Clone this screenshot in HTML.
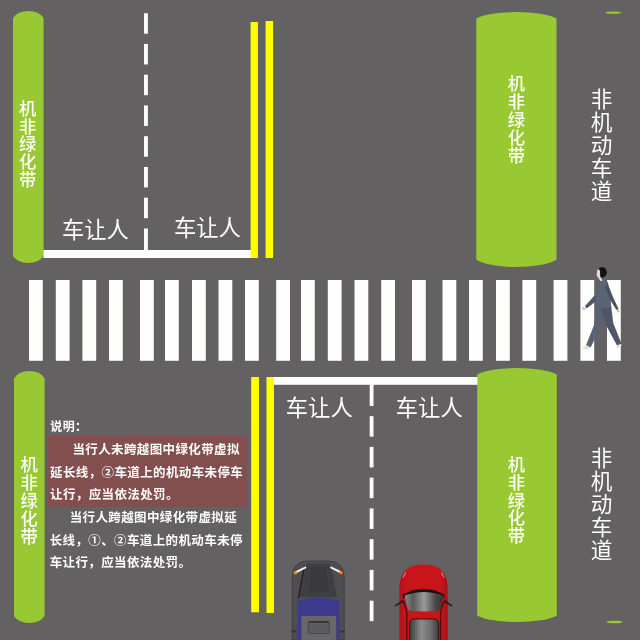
<!DOCTYPE html>
<html lang="zh-CN">
<head>
<meta charset="utf-8">
<title>车让人</title>
<style>
html,body{margin:0;padding:0;}
body{width:640px;height:640px;overflow:hidden;background:#636162;position:relative;font-family:"Liberation Sans","Noto Sans CJK SC",sans-serif;color:#fdfdfb;}
svg{position:absolute;left:0;top:0;}
#tx{position:absolute;left:0;top:0;width:640px;height:640px;will-change:transform;}
.t{position:absolute;white-space:nowrap;color:#fdfdfb;}
.v{position:absolute;text-align:center;word-break:break-all;white-space:normal;color:#fdfdfb;}
.gb{font-size:17.3px;line-height:17.8px;width:18px;font-weight:500;}
.nm{font-size:21.6px;line-height:23px;width:22px;font-weight:400;}
.crr{font-size:22.3px;line-height:24px;font-weight:400;letter-spacing:0px;}
.ex{position:absolute;font-size:12.5px;font-weight:700;line-height:22.3px;letter-spacing:0.38px;color:#fdfdfb;white-space:nowrap;}
</style>
</head>
<body>
<svg width="640" height="640" viewBox="0 0 640 640">
<rect width="640" height="640" fill="#636162"/>
<!-- green belts -->
<g fill="#98c832">
<path d="M13 18 A17 12.4 0 0 1 43.6 18 V256 A17 12.4 0 0 1 13 256 Z"/>
<path d="M476.3 18.4 A44 10.8 0 0 1 556.5 18.4 V259.8 A44 12.4 0 0 1 476.3 259.8 Z"/>
<path d="M14 378.4 A17 13 0 0 1 44.6 378.4 V616 A17 12.4 0 0 1 14 616 Z"/>
<path d="M477.2 374.4 A44 11 0 0 1 556.8 374.4 V615.7 A44 11 0 0 1 477.2 615.7 Z"/>
<ellipse cx="613.5" cy="12.6" rx="8" ry="1.2"/>
<ellipse cx="614.5" cy="622" rx="8" ry="1.3"/>
</g>
<!-- crosswalk -->
<g fill="#fdfdfb">
<rect x="29" y="280" width="13.8" height="80.8"/><rect x="55.8" y="280" width="13.8" height="80.8"/><rect x="82.4" y="280" width="13.8" height="80.8"/><rect x="109" y="280" width="13.8" height="80.8"/><rect x="140" y="280" width="13.8" height="80.8"/><rect x="165" y="280" width="13.8" height="80.8"/><rect x="192" y="280" width="13.8" height="80.8"/><rect x="218.5" y="280" width="13.8" height="80.8"/><rect x="245" y="280" width="13.8" height="80.8"/><rect x="276.2" y="280" width="13.8" height="80.8"/><rect x="301" y="280" width="13.8" height="80.8"/><rect x="327.8" y="280" width="13.8" height="80.8"/><rect x="354.5" y="280" width="13.8" height="80.8"/><rect x="381.2" y="280" width="13.8" height="80.8"/><rect x="412" y="280" width="13.8" height="80.8"/><rect x="442.5" y="280" width="13.8" height="80.8"/><rect x="469" y="280" width="13.8" height="80.8"/><rect x="496" y="280" width="13.8" height="80.8"/><rect x="522.4" y="280" width="13.8" height="80.8"/><rect x="553.6" y="280" width="13.8" height="80.8"/><rect x="580.4" y="280" width="13.8" height="80.8"/><rect x="607" y="280" width="13.8" height="80.8"/>
</g>
<!-- stop lines -->
<rect x="43.5" y="250" width="207.5" height="8" fill="#fdfdfb"/>
<rect x="274" y="377" width="203.5" height="7.8" fill="#fdfdfb"/>
<!-- yellow double lines -->
<g fill="#ffff00">
<rect x="250.6" y="22" width="7.3" height="236"/>
<rect x="265.6" y="21" width="7.5" height="237"/>
<rect x="251.2" y="377" width="7.8" height="235.3"/>
<rect x="266.5" y="377" width="7.5" height="236"/>
</g>
<!-- dashed lane lines -->
<g fill="#fdfdfb">
<rect x="144" y="13.2" width="3.9" height="20.5"/><rect x="369.7" y="384" width="3.8" height="22"/><rect x="144" y="43.95" width="3.9" height="20.5"/><rect x="369.7" y="416.15" width="3.8" height="20.5"/><rect x="144" y="74.7" width="3.9" height="20.5"/><rect x="369.7" y="446.9" width="3.8" height="20.5"/><rect x="144" y="105.45" width="3.9" height="20.5"/><rect x="369.7" y="477.65" width="3.8" height="20.5"/><rect x="144" y="136.2" width="3.9" height="20.5"/><rect x="369.7" y="508.4" width="3.8" height="20.5"/><rect x="144" y="166.95" width="3.9" height="20.5"/><rect x="369.7" y="539.15" width="3.8" height="20.5"/><rect x="144" y="197.7" width="3.9" height="20.5"/><rect x="369.7" y="569.9" width="3.8" height="20.5"/><rect x="144" y="228.45" width="3.9" height="22"/><rect x="369.7" y="600.65" width="3.8" height="20.5"/>
</g>
<!-- cars and pedestrian -->
<defs>
<linearGradient id="gl" x1="0" x2="1" y1="0" y2="0"><stop offset="0" stop-color="#8a8a8a"/><stop offset="0.22" stop-color="#5a5a5a"/><stop offset="0.5" stop-color="#9a9a9a"/><stop offset="0.8" stop-color="#4a4444"/><stop offset="1" stop-color="#3a3030"/></linearGradient>
<linearGradient id="gr" x1="0" x2="1" y1="0" y2="0"><stop offset="0" stop-color="#3c3c3c"/><stop offset="0.4" stop-color="#8c8c8c"/><stop offset="0.75" stop-color="#6a6a6a"/><stop offset="1" stop-color="#3a3a3a"/></linearGradient>
<linearGradient id="rb" x1="0" x2="1" y1="0" y2="0"><stop offset="0" stop-color="#b01218"/><stop offset="0.15" stop-color="#c8151b"/><stop offset="0.85" stop-color="#c8151b"/><stop offset="1" stop-color="#a81016"/></linearGradient>
</defs>
<!-- dark car -->
<g>
<path d="M292.3 640 V577 Q292.3 561.4 308 561 H328.5 Q344.2 561.4 344.2 577 V640 Z" fill="#4e4e52" stroke="#414145" stroke-width="1"/>
<path d="M306.5 563.6 H330.5 L337 597 H300 Z" fill="#3f3f43"/>
<path d="M311 567 H326 L328.5 592 H309 Z" fill="#3a3a3e"/>
<path d="M304.5 566 L298.5 598" stroke="#2a1a1a" stroke-width="1.4" fill="none"/>
<rect x="313" y="589.5" width="14" height="2.2" fill="#38383b"/>
<path d="M295 571.6 L305.8 566.2 L306.4 568.1 L295.8 573.6 Z" fill="#f4f0ee"/>
<circle cx="295.4" cy="572.8" r="1.8" fill="#f0921e"/>
<path d="M341.5 571.6 L330.7 566.2 L330.1 568.1 L340.7 573.6 Z" fill="#f4f0ee"/>
<circle cx="341.1" cy="572.8" r="1.8" fill="#f0721e"/>
<path d="M297.8 601 Q318 594 339 601 L339.6 640 H336.5 V616 H301 V640 H297.6 Z" fill="#3e3a8e"/>
<path d="M297.6 601 Q318 594 339 601 L336 616 H301.5 Z" fill="#3e3a8e"/>
<rect x="301.5" y="616" width="34.5" height="24" fill="#67676a"/>
<rect x="308.3" y="621.5" width="21" height="12" rx="1" fill="#5c5c60" stroke="#48484c" stroke-width="1"/>
<rect x="309" y="621.2" width="19.6" height="1.4" fill="#3a2626"/>
<rect x="291.5" y="630.6" width="5" height="1.8" fill="#333"/>
<rect x="340" y="630.6" width="5" height="1.8" fill="#333"/>
</g>
<!-- red car -->
<g>
<path d="M399.3 640 V590 C399.3 571 408 564.4 423.5 564.4 C439 564.4 447.7 571 447.7 590 V640 Z" fill="url(#rb)"/>
<path d="M403 577.5 L405.6 572.6 M444 577.5 L441.4 572.6" stroke="#e6a0a0" stroke-width="1" fill="none"/>
<path d="M402.6 594.8 Q423.5 582.6 444.6 594.8 L444 598 L403.2 598 Z" fill="#1c0d0d"/>
<path d="M404.4 595.6 Q423.5 588.4 443.8 595.6 L439.9 610.6 Q423.5 612.6 408.4 610.6 Z" fill="url(#gl)"/>
<path d="M403 599.5 L394.4 605.6 L395.6 606.6 L403.8 602 Z" fill="#2a1c1c"/>
<path d="M444.6 599.5 L452.6 605.6 L451.4 606.6 L444 602 Z" fill="#2a1c1c"/>
<path d="M403.6 601 L406.8 612 V640 M443.6 601 L440.6 612 V640" stroke="#4a0c0e" stroke-width="1.3" fill="none"/>
<path d="M409.7 640 V624 Q409.7 619 415 619 H433.4 Q438.6 619 438.6 624 V640 Z" fill="url(#gr)"/>
<path d="M409.7 640 V624 Q409.7 619 415 619 H433.4 Q438.6 619 438.6 624 V640" fill="none" stroke="#30100f" stroke-width="1"/>
</g>
<!-- pedestrian -->
<g>
<path d="M599.5 283 L595 295 L585 306 L586.6 308.4 L597.6 300 L601.4 288 Z" fill="#515968"/>
<path d="M596.6 307 L594 325 L586 345.5 L590.6 347.4 L600.5 328 L605.5 309 Z" fill="#596272"/>
<path d="M601 308 L606.5 326 L617 345.6 L621.4 343.4 L613.2 323 L611.2 306 Z" fill="#4f5766"/>
<path d="M600.2 280.6 Q604.6 279.4 607.6 281.6 L610.4 294 L611.2 307.6 L596.6 308.4 L595.4 292 L598 284 Z" fill="#5b6474"/>
<path d="M607.4 283 L613 297 L618.6 309 L616.4 310 L609.4 298.6 L605 287 Z" fill="#4b5362"/>
<ellipse cx="602.2" cy="272.2" rx="4.6" ry="5.2" fill="#121012"/>
<path d="M597.4 269.4 Q599.6 268.8 600 271 L600.2 276.6 L602.6 280.4 L600.6 281.2 L598 277.4 Q596.2 276.6 596.8 273.6 Z" fill="#e8d6d0"/>
<circle cx="583.8" cy="308.6" r="1.5" fill="#e6b8b4"/>
<circle cx="618.2" cy="311" r="1.5" fill="#e6b8b4"/>
<path d="M581.6 347.4 L587 345.4 L590.8 347.6 L586.6 349.8 Z" fill="#e8dedc"/>
<path d="M615.6 347 L620.6 344 L621.8 345.4 L618 348 Z" fill="#e8dedc"/>
</g>
</svg>
<div id="tx">
<div class="v gb" style="left:18.6px;top:100.8px;">机非绿化带</div>
<div class="v gb" style="left:507.5px;top:76.4px;">机非绿化带</div>
<div class="v gb" style="left:20.2px;top:457.4px;">机非绿化带</div>
<div class="v gb" style="left:507.5px;top:457px;">机非绿化带</div>
<div class="v nm" style="left:590.6px;top:88.2px;">非机动车道</div>
<div class="v nm" style="left:590.6px;top:447.2px;">非机动车道</div>
<div class="t crr" style="left:61.9px;top:219.2px;">车让人</div>
<div class="t crr" style="left:174px;top:216.6px;">车让人</div>
<div class="t crr" style="left:285.8px;top:396.6px;">车让人</div>
<div class="t crr" style="left:395.8px;top:397px;">车让人</div>
<div class="ex" style="left:50.3px;top:416.2px;font-size:12px;">说明：</div>
<div style="position:absolute;left:48px;top:436px;width:199px;height:71px;background:#824e4e;"></div>
<div class="ex" style="left:50px;top:439.3px;"><span style="padding-left:22.4px">当行人未跨越图中绿化带虚拟</span><br>延长线，②车道上的机动车未停车<br>让行，应当依法处罚。</div>
<div class="ex" style="left:49.7px;top:507.3px;line-height:22.2px;"><span style="padding-left:20px">当行人跨越图中绿化带虚拟延</span><br>长线，①、②车道上的机动车未停<br>车让行，应当依法处罚。</div>
</div>
</body>
</html>
